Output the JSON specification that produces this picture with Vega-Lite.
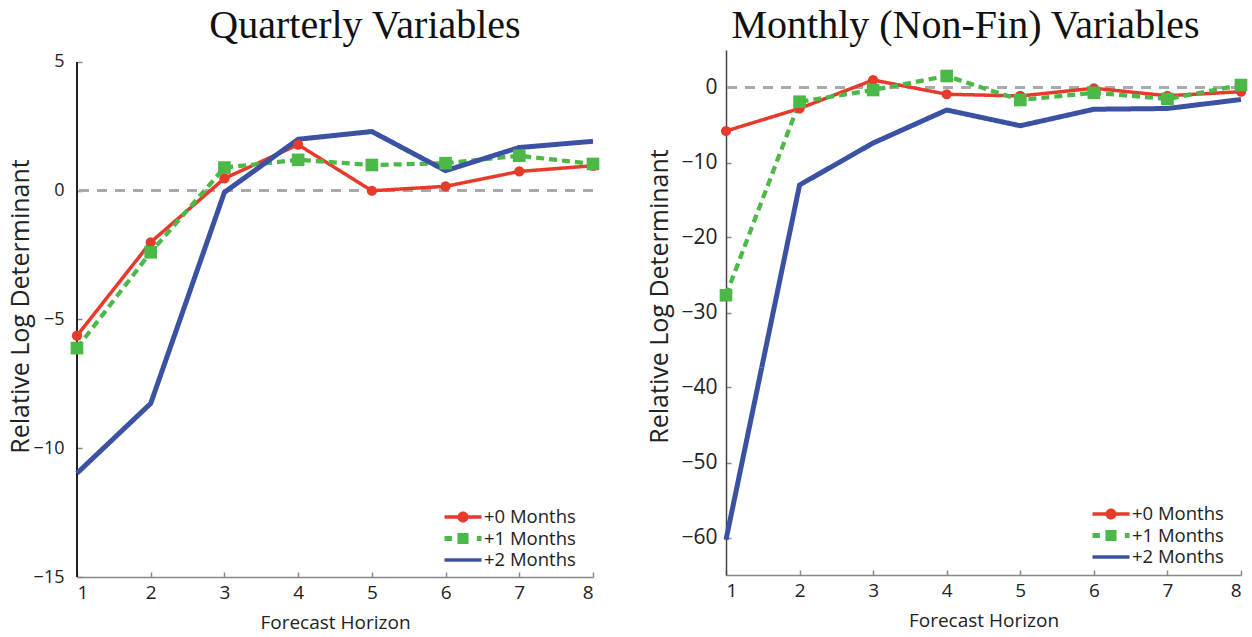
{
  "$schema": "https://vega.github.io/schema/vega-lite/v6.json",
  "padding": {"left": 8, "top": 6, "right": 8, "bottom": 0},
  "datasets": {
    "quarterly": [
      {"h": 1, "series": "+0 Months", "v": -5.63}, {"h": 2, "series": "+0 Months", "v": -2.0}, {"h": 3, "series": "+0 Months", "v": 0.48}, {"h": 4, "series": "+0 Months", "v": 1.79},
      {"h": 5, "series": "+0 Months", "v": 0.0}, {"h": 6, "series": "+0 Months", "v": 0.17}, {"h": 7, "series": "+0 Months", "v": 0.75}, {"h": 8, "series": "+0 Months", "v": 0.97},
      {"h": 1, "series": "+1 Months", "v": -6.11}, {"h": 2, "series": "+1 Months", "v": -2.39}, {"h": 3, "series": "+1 Months", "v": 0.9}, {"h": 4, "series": "+1 Months", "v": 1.2},
      {"h": 5, "series": "+1 Months", "v": 1.0}, {"h": 6, "series": "+1 Months", "v": 1.07}, {"h": 7, "series": "+1 Months", "v": 1.36}, {"h": 8, "series": "+1 Months", "v": 1.04},
      {"h": 1, "series": "+2 Months", "v": -10.97}, {"h": 2, "series": "+2 Months", "v": -8.26}, {"h": 3, "series": "+2 Months", "v": -0.06}, {"h": 4, "series": "+2 Months", "v": 2.0},
      {"h": 5, "series": "+2 Months", "v": 2.3}, {"h": 6, "series": "+2 Months", "v": 0.78}, {"h": 7, "series": "+2 Months", "v": 1.68}, {"h": 8, "series": "+2 Months", "v": 1.92}
    ],
    "monthly": [
      {"h": 1, "series": "+0 Months", "v": -5.8}, {"h": 2, "series": "+0 Months", "v": -2.8}, {"h": 3, "series": "+0 Months", "v": 1.0}, {"h": 4, "series": "+0 Months", "v": -0.9},
      {"h": 5, "series": "+0 Months", "v": -1.13}, {"h": 6, "series": "+0 Months", "v": -0.1}, {"h": 7, "series": "+0 Months", "v": -1.1}, {"h": 8, "series": "+0 Months", "v": -0.56},
      {"h": 1, "series": "+1 Months", "v": -27.7}, {"h": 2, "series": "+1 Months", "v": -1.9}, {"h": 3, "series": "+1 Months", "v": -0.33}, {"h": 4, "series": "+1 Months", "v": 1.53},
      {"h": 5, "series": "+1 Months", "v": -1.67}, {"h": 6, "series": "+1 Months", "v": -0.7}, {"h": 7, "series": "+1 Months", "v": -1.53}, {"h": 8, "series": "+1 Months", "v": 0.33},
      {"h": 1, "series": "+2 Months", "v": -60.3}, {"h": 2, "series": "+2 Months", "v": -13.0}, {"h": 3, "series": "+2 Months", "v": -7.4}, {"h": 4, "series": "+2 Months", "v": -3.0},
      {"h": 5, "series": "+2 Months", "v": -5.1}, {"h": 6, "series": "+2 Months", "v": -2.9}, {"h": 7, "series": "+2 Months", "v": -2.8}, {"h": 8, "series": "+2 Months", "v": -1.6}
    ]
  },
  "config": {
    "view": {"stroke": null},
    "font": "Open Sans",
    "title": {"font": "Liberation Serif", "fontSize": 40, "fontWeight": "normal", "color": "#111", "offset": 4},
    "axis": {"grid": false, "labelFont": "Open Sans", "titleFont": "Open Sans", "labelColor": "#222", "titleColor": "#222", "titleFontWeight": "normal", "tickColor": "#888", "tickSize": -5, "tickWidth": 1.5, "domainWidth": 1.5},
    "axisX": {"domainColor": "#888", "labelFontSize": 19, "titleFontSize": 19, "labelPadding": 11, "titlePadding": 11, "format": "d"},
    "axisY": {"domainColor": "#222", "titleFontSize": 25},
    "legend": {"symbolStrokeWidth": 0, "symbolStrokeColor": "transparent"}
  },
  "spacing": 44,
  "resolve": {"scale": {"color": "independent", "strokeDash": "independent", "strokeWidth": "independent"}, "legend": {"color": "independent"}},
  "hconcat": [
    {
      "width": 516, "height": 527,
      "title": {"text": "Quarterly Variables", "dx": 30},
      "data": {"name": "quarterly"},
      "layer": [
        {"mark": {"type": "rule", "color": "#aaaaaa", "strokeWidth": 2.5, "strokeDash": [10, 8]}, "encoding": {"y": {"datum": 0}}},
        {"mark": {"type": "rule", "color": "#222222", "strokeWidth": 1.5}, "encoding": {"x": {"datum": 1, "type": "quantitative", "scale": {"domain": [1, 8], "nice": false, "zero": false}}, "y": {"datum": -15, "type": "quantitative", "scale": {"domain": [-15, 5.466], "nice": false, "zero": false}}, "y2": {"datum": 5}}},
        {
          "mark": {"type": "line", "strokeCap": "butt"},
          "encoding": {
            "x": {"field": "h", "type": "quantitative", "scale": {"domain": [1, 8], "nice": false, "zero": false}, "axis": {"values": [1, 2, 3, 4, 5, 6, 7, 8], "title": "Forecast Horizon"}},
            "y": {"field": "v", "type": "quantitative", "scale": {"domain": [-15, 5.466], "nice": false, "zero": false}, "axis": {"values": [-15, -10, -5, 0, 5], "title": "Relative Log Determinant", "titleY": 256, "domain": false, "labelFontSize": 18, "labelPadding": 18, "titlePadding": 0}},
            "color": {"field": "series", "type": "nominal", "scale": {"domain": ["+0 Months", "+1 Months", "+2 Months"], "range": ["#e63a2b", "#4cb848", "#3b52a3"]},
              "legend": {"orient": "none", "legendX": 374, "legendY": 456, "title": null, "labelFontSize": 18.5, "labelColor": "#222", "symbolSize": 342, "labelOffset": 9, "rowPadding": -8.5, "padding": 0,
                "encode": {"symbols": {"update": {
                  "shape": {"signal": "datum.value == '+0 Months' ? 'M-2,-0.19H2V0.19H-2Z M0.6,0A0.6,0.6,0,1,1,-0.6,0A0.6,0.6,0,1,1,0.6,0Z' : datum.value == '+1 Months' ? 'M-2,-0.27H-1.2V0.27H-2Z M-0.6,-0.6H0.6V0.6H-0.6Z M1.5,-0.27H2V0.27H1.5Z' : 'M-2,-0.19H2V0.19H-2Z'"},
                  "fill": {"signal": "datum.value == '+0 Months' ? '#e63a2b' : datum.value == '+1 Months' ? '#4cb848' : '#3b52a3'"},
                  "stroke": {"value": "transparent"}, "strokeOpacity": {"value": 0}, "strokeWidth": {"value": 0}, "opacity": {"value": 1}, "fillOpacity": {"value": 1}}}}}},
            "strokeDash": {"field": "series", "type": "nominal", "scale": {"domain": ["+0 Months", "+1 Months", "+2 Months"], "range": [[1, 0], [8, 5], [1, 0]]}, "legend": null},
            "strokeWidth": {"field": "series", "type": "nominal", "scale": {"domain": ["+0 Months", "+1 Months", "+2 Months"], "range": [3.5, 5, 3.8]}, "legend": null}
          }
        },
        {"transform": [{"filter": "datum.series == '+0 Months'"}], "mark": {"type": "point", "shape": "circle", "filled": true, "color": "#e63a2b", "size": 105, "opacity": 1},
          "encoding": {"x": {"field": "h", "type": "quantitative"}, "y": {"field": "v", "type": "quantitative"}}},
        {"transform": [{"filter": "datum.series == '+1 Months'"}], "mark": {"type": "point", "shape": "square", "filled": true, "color": "#4cb848", "size": 160, "opacity": 1},
          "encoding": {"x": {"field": "h", "type": "quantitative"}, "y": {"field": "v", "type": "quantitative"}}}
      ]
    },
    {
      "width": 515, "height": 525,
      "title": {"text": "Monthly (Non-Fin) Variables", "dx": -18},
      "data": {"name": "monthly"},
      "layer": [
        {"mark": {"type": "rule", "color": "#aaaaaa", "strokeWidth": 2.5, "strokeDash": [10, 8]}, "encoding": {"y": {"datum": 0}}},
        {
          "mark": {"type": "line", "strokeCap": "butt"},
          "encoding": {
            "x": {"field": "h", "type": "quantitative", "scale": {"domain": [1, 8], "nice": false, "zero": false}, "axis": {"values": [1, 2, 3, 4, 5, 6, 7, 8], "title": "Forecast Horizon"}},
            "y": {"field": "v", "type": "quantitative", "scale": {"domain": [-65, 5], "nice": false}, "axis": {"values": [-60, -50, -40, -30, -20, -10, 0], "title": "Relative Log Determinant", "titleY": 246, "domainColor": "#444", "labelFontSize": 21, "labelPadding": 14, "titlePadding": 8}},
            "color": {"field": "series", "type": "nominal", "scale": {"domain": ["+0 Months", "+1 Months", "+2 Months"], "range": ["#e63a2b", "#4cb848", "#3b52a3"]},
              "legend": {"orient": "none", "legendX": 373, "legendY": 453, "title": null, "labelFontSize": 18.5, "labelColor": "#222", "symbolSize": 342, "labelOffset": 9, "rowPadding": -8.5, "padding": 0,
                "encode": {"symbols": {"update": {
                  "shape": {"signal": "datum.value == '+0 Months' ? 'M-2,-0.19H2V0.19H-2Z M0.6,0A0.6,0.6,0,1,1,-0.6,0A0.6,0.6,0,1,1,0.6,0Z' : datum.value == '+1 Months' ? 'M-2,-0.27H-1.2V0.27H-2Z M-0.6,-0.6H0.6V0.6H-0.6Z M1.5,-0.27H2V0.27H1.5Z' : 'M-2,-0.19H2V0.19H-2Z'"},
                  "fill": {"signal": "datum.value == '+0 Months' ? '#e63a2b' : datum.value == '+1 Months' ? '#4cb848' : '#3b52a3'"},
                  "stroke": {"value": "transparent"}, "strokeOpacity": {"value": 0}, "strokeWidth": {"value": 0}, "opacity": {"value": 1}, "fillOpacity": {"value": 1}}}}}},
            "strokeDash": {"field": "series", "type": "nominal", "scale": {"domain": ["+0 Months", "+1 Months", "+2 Months"], "range": [[1, 0], [8, 5], [1, 0]]}, "legend": null},
            "strokeWidth": {"field": "series", "type": "nominal", "scale": {"domain": ["+0 Months", "+1 Months", "+2 Months"], "range": [3.5, 5, 3.8]}, "legend": null}
          }
        },
        {"transform": [{"filter": "datum.series == '+0 Months'"}], "mark": {"type": "point", "shape": "circle", "filled": true, "color": "#e63a2b", "size": 105, "opacity": 1},
          "encoding": {"x": {"field": "h", "type": "quantitative"}, "y": {"field": "v", "type": "quantitative"}}},
        {"transform": [{"filter": "datum.series == '+1 Months'"}], "mark": {"type": "point", "shape": "square", "filled": true, "color": "#4cb848", "size": 160, "opacity": 1},
          "encoding": {"x": {"field": "h", "type": "quantitative"}, "y": {"field": "v", "type": "quantitative"}}}
      ]
    }
  ]
}
